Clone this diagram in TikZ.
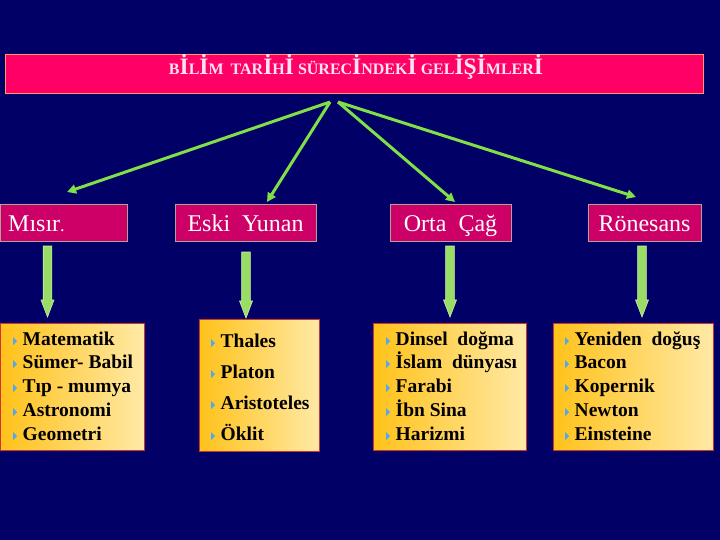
\documentclass[tikz,border=0pt]{standalone}
\usepackage{fontspec}
\usepackage{graphicx}
\setmainfont{Liberation Serif}
\newfontfamily\symfont{DejaVu Sans}
\usetikzlibrary{arrows.meta,calc}
\definecolor{bgnavy}{HTML}{000066}
\definecolor{titlepink}{HTML}{FF0066}
\definecolor{titleedge}{HTML}{FF9966}
\definecolor{catpink}{HTML}{CC0066}
\definecolor{catedge}{HTML}{B0A0A0}
\definecolor{linegreen}{HTML}{80E048}
\definecolor{blockgreen}{HTML}{99DD66}
\definecolor{blockedge}{HTML}{CCEEAA}
\definecolor{listleft}{HTML}{FFC21A}
\definecolor{listright}{HTML}{FFE9A6}
\definecolor{listedge}{HTML}{CC3333}
\definecolor{bulblue}{HTML}{4FA8F0}
\definecolor{titletext}{HTML}{FFE4F0}
\newcommand\tsm[1]{{\fontsize{16}{16}\selectfont #1}}
\newcommand\tbg[1]{{\fontsize{23.5}{23.5}\selectfont #1}}
\newcommand\bul{\makebox[9.5pt][l]{\raisebox{1pt}{\scalebox{0.5}[1]{\textcolor{bulblue}{\symfont\fontsize{11}{11}\selectfont ▶}}}}}
\tikzset{
  titlebar/.style={draw=titleedge, line width=0.8pt, fill=titlepink, anchor=north west, inner sep=0pt},
  catbox/.style={draw=catedge, line width=0.8pt, fill=catpink, anchor=north west, inner sep=0pt},
  cattext/.style={text=white, font=\fontsize{24}{24}\selectfont, inner sep=0pt},
  listbox/.style={draw=listedge, line width=0.6pt, left color=listleft, right color=listright, anchor=north west, inner sep=0pt},
  item/.style={anchor=base west, inner sep=0pt, text=black, font=\bfseries\fontsize{19.5}{19.5}\selectfont},
  toparrow/.style={draw=linegreen, line width=3pt, -{Triangle[length=9pt,width=9pt]}},
  blockarrow/.style={fill=blockgreen, draw=blockedge, line width=0.6pt}
}
\newcommand\varrow[2]{%
  \filldraw[blockarrow] ($(#1)+(-4.3,0)$) -- ($(#2)+(-4.3,-17)$) -- ($(#2)+(-6.5,-17)$) -- (#2)
    -- ($(#2)+(6.5,-17)$) -- ($(#2)+(4.3,-17)$) -- ($(#1)+(4.3,0)$) -- cycle;}
\begin{document}
\begin{tikzpicture}[x=1pt,y=-1pt]
\fill[bgnavy] (0,0) rectangle (720,540);
\useasboundingbox (0,0) rectangle (720,540);
% title
\node[titlebar, minimum width=698pt, minimum height=39pt] (title) at (5,54) {};
\node[anchor=base, text=titletext, inner sep=0pt, font=\bfseries] (titletxt) at (356,74.5)
  {\tsm{B}\tbg{İ}\tsm{L}\tbg{İ}\tsm{M}\hspace{7pt}\tsm{TAR}\tbg{İ}\tsm{H}\tbg{İ}\hspace{4pt}\tsm{SÜREC}\tbg{İ}\tsm{NDEK}\tbg{İ}\hspace{4pt}\tsm{GEL}\tbg{İŞİ}\tsm{MLER}\tbg{İ}};
% category boxes
\node[catbox, minimum width=127pt, minimum height=36.5pt] (misir) at (0,204) {};
\node[catbox, minimum width=141pt, minimum height=36.5pt] (yunan) at (175,204) {};
\node[catbox, minimum width=121pt, minimum height=36.5pt] (orta) at (390,204) {};
\node[catbox, minimum width=113pt, minimum height=36.5pt] (ron) at (588,204) {};
\node[cattext, anchor=base west] (misirt) at (8,231) {Mısır{\fontsize{18}{18}\selectfont .}};
\node[cattext, anchor=base] (yunant) at (245.5,231) {Eski\ \ Yunan};
\node[cattext, anchor=base] (ortat) at (450.5,231) {Orta\ \ Çağ};
\node[cattext, anchor=base] (ront) at (644.5,231) {Rönesans};
% top arrows
\coordinate (sl) at (330,102);
\coordinate (sr) at (338,102);
\coordinate (t1) at (67,192);
\coordinate (t2) at (267,202);
\coordinate (t3) at (455,202);
\coordinate (t4) at (636,197);
\draw[toparrow] (sl) -- (t1);
\draw[toparrow] (sl) -- (t2);
\draw[toparrow] (sr) -- (t3);
\draw[toparrow] (sr) -- (t4);
% list boxes
\node[listbox, minimum width=144pt, minimum height=127pt] (l1) at (0,323) {};
\node[listbox, minimum width=120pt, minimum height=132pt] (l2) at (199,319) {};
\node[listbox, minimum width=153pt, minimum height=127pt] (l3) at (373,323) {};
\node[listbox, minimum width=160pt, minimum height=127pt] (l4) at (553,323) {};
% vertical block arrows
\coordinate (v1a) at (47.5,246); \coordinate (v1b) at (47.5,317);
\coordinate (v2a) at (246,252); \coordinate (v2b) at (246,318);
\coordinate (v3a) at (450,246); \coordinate (v3b) at (450,317);
\coordinate (v4a) at (642,246); \coordinate (v4b) at (642,317);
\varrow{v1a}{v1b}
\varrow{v2a}{v2b}
\varrow{v3a}{v3b}
\varrow{v4a}{v4b}
% items: Misir
\node[item] (m1) at (13,345) {\bul Matematik};
\node[item] (m2) at (13,368.75) {\bul Sümer- Babil};
\node[item] (m3) at (13,392.5) {\bul Tıp - mumya};
\node[item] (m4) at (13,416.25) {\bul Astronomi};
\node[item] (m5) at (13,440) {\bul Geometri};
% Eski Yunan
\node[item] (y1) at (211,347) {\bul Thales};
\node[item] (y2) at (211,378) {\bul Platon};
\node[item] (y3) at (211,409) {\bul Aristoteles};
\node[item] (y4) at (211,440) {\bul Öklit};
% Orta Cag
\node[item] (o1) at (386,345) {\bul Dinsel\ \ doğma};
\node[item] (o2) at (386,368.75) {\bul İslam\ \ dünyası};
\node[item] (o3) at (386,392.5) {\bul Farabi};
\node[item] (o4) at (386,416.25) {\bul İbn Sina};
\node[item] (o5) at (386,440) {\bul Harizmi};
% Ronesans
\node[item] (r1) at (565,345) {\bul Yeniden\ \ doğuş};
\node[item] (r2) at (565,368.75) {\bul Bacon};
\node[item] (r3) at (565,392.5) {\bul Kopernik};
\node[item] (r4) at (565,416.25) {\bul Newton};
\node[item] (r5) at (565,440) {\bul Einsteine};
\end{tikzpicture}
\end{document}
